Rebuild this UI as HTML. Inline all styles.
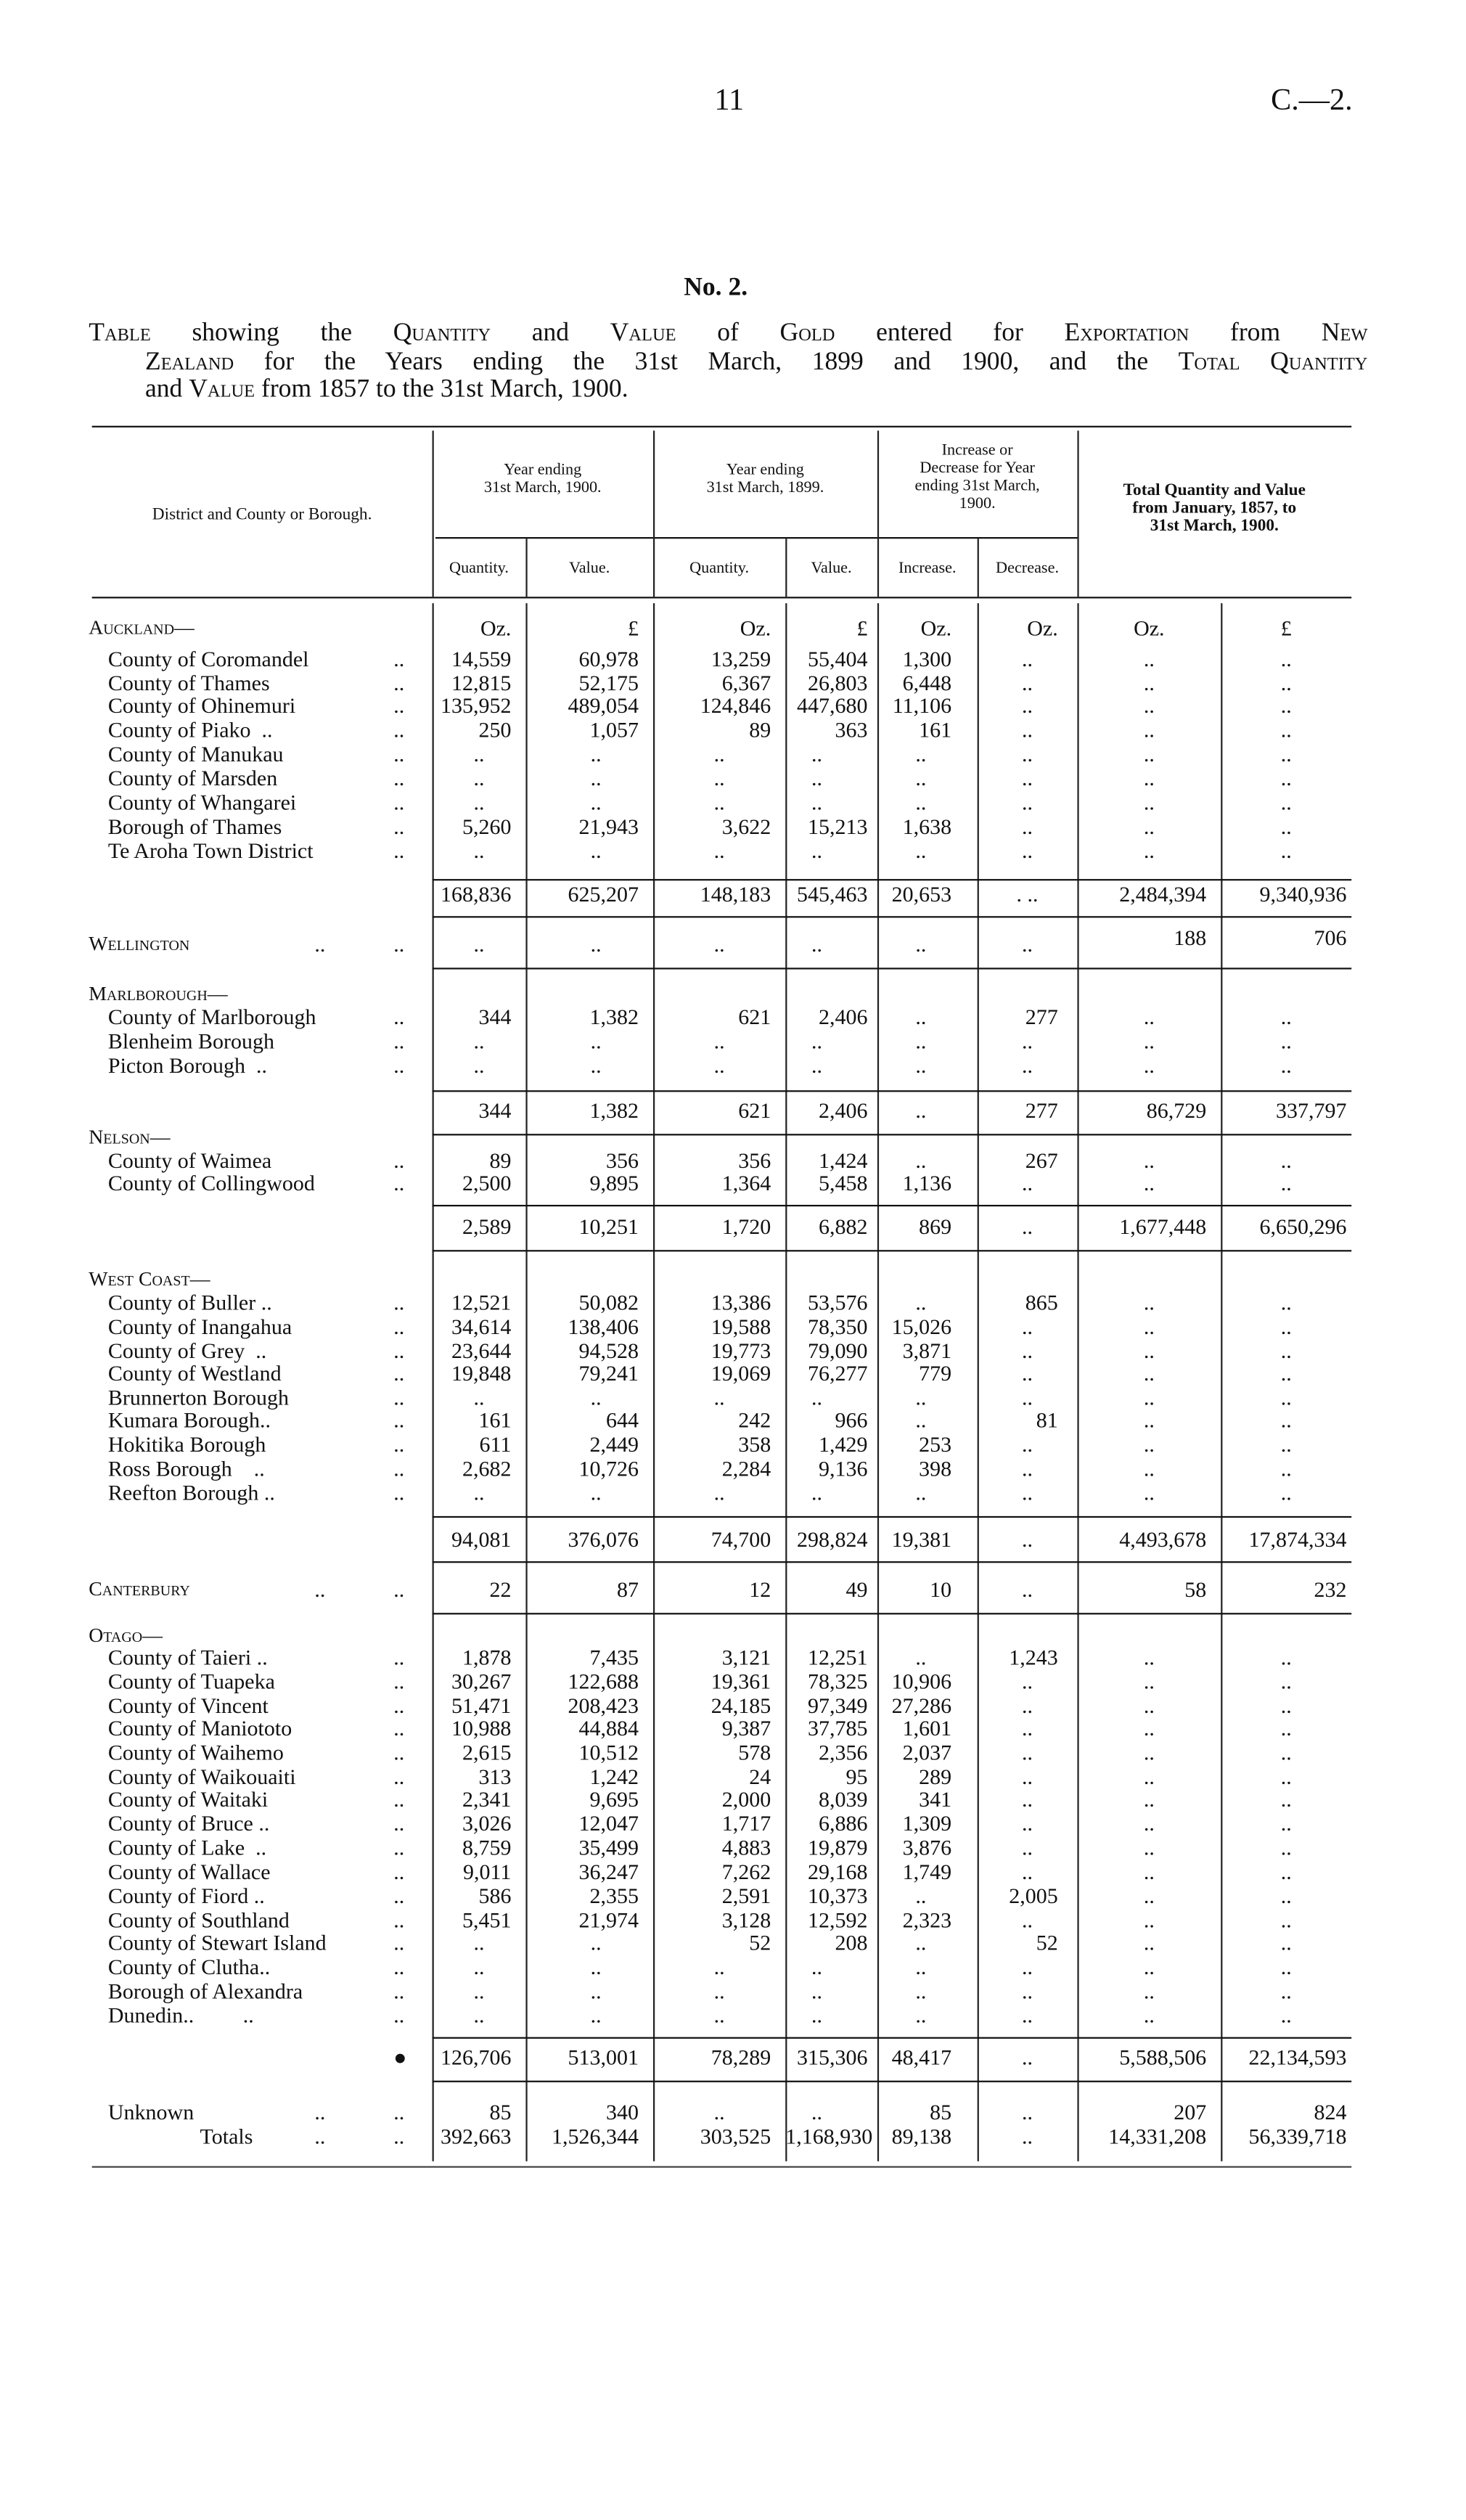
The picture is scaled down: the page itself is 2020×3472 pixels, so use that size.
<!DOCTYPE html>
<html><head><meta charset="utf-8"><style>
html,body{margin:0;padding:0;background:#fff;}
body{width:2020px;height:3472px;overflow:hidden;position:relative;}
#w{position:absolute;left:0;top:0;width:909px;height:1562.4px;transform:scale(2.2222);transform-origin:0 0;font-family:"Liberation Serif",serif;color:#111;}
.t{position:absolute;white-space:nowrap;}
.r{position:absolute;left:0;width:909px;height:15px;font-size:13.5px;line-height:15px;white-space:nowrap;}
.r span{position:absolute;top:0;}
.n{left:67px;}
.N{left:55px;font-variant:small-caps;font-size:12.5px;}
.l{left:244px;}
.l2{left:195px;}
.a{left:268px;width:49px;text-align:right;}
.b{left:326px;width:70px;text-align:right;}
.c{left:405px;width:73px;text-align:right;}
.d{left:487px;width:51px;text-align:right;}
.e{left:544px;width:46px;text-align:right;}
.f{left:606px;width:50px;text-align:right;}
.g{left:668px;width:80px;text-align:right;}
.h{left:757px;width:78px;text-align:right;}
.r span.z{text-align:center;}
.a.z{width:58px}.b.z{width:79px;left:330px}.c.z{width:82px}.d.z{width:57px;left:478px}.e.z{width:62px;left:540px}.f.z{width:62px}.g.z{width:89px}.h.z{width:81px}
.hl{position:absolute;height:1.4px;background:#111;}
.vl{position:absolute;width:1px;background:#222;}
.sc{font-variant:small-caps;}
.hd{position:absolute;font-size:10px;line-height:11px;text-align:center;white-space:nowrap;}
</style></head><body><div id="w">
<div class="t" style="left:443px;top:52px;font-size:19px;">11</div>
<div class="t" style="left:788px;top:52px;font-size:19px;">C.—2.</div>
<div class="t" style="left:424px;top:170px;font-size:16px;font-weight:bold;">No. 2.</div>
<div class="t" style="left:55px;top:198px;width:793px;font-size:16px;text-align:justify;text-align-last:justify;"><span class="sc">Table</span> showing the <span class="sc">Quantity</span> and <span class="sc">Value</span> of <span class="sc">Gold</span> entered for <span class="sc">Exportation</span> from <span class="sc">New</span></div>
<div class="t" style="left:90px;top:216px;width:758px;font-size:16px;text-align:justify;text-align-last:justify;"><span class="sc">Zealand</span> for the Years ending the 31st March, 1899 and 1900, and the <span class="sc">Total Quantity</span></div>
<div class="t" style="left:90px;top:233px;font-size:16px;">and <span class="sc">Value</span> from 1857 to the 31st March, 1900.</div>

<div class="hl" style="left:57px;top:264px;width:781px;"></div>
<div class="hl" style="left:57px;top:370px;width:781px;"></div>
<div class="hl" style="left:270px;top:333px;width:398px;height:1px;"></div>
<div class="vl" style="left:268px;top:267px;height:103px;"></div>
<div class="vl" style="left:405px;top:267px;height:103px;"></div>
<div class="vl" style="left:544px;top:267px;height:103px;"></div>
<div class="vl" style="left:668px;top:267px;height:103px;"></div>
<div class="vl" style="left:326px;top:334px;height:36px;"></div>
<div class="vl" style="left:487px;top:334px;height:36px;"></div>
<div class="vl" style="left:606px;top:334px;height:36px;"></div>
<div class="hd" style="left:60px;top:314px;width:205px;font-size:10.5px;">District and County or Borough.</div>
<div class="hd" style="left:268px;top:286px;width:137px;">Year ending<br>31st March, 1900.</div>
<div class="hd" style="left:405px;top:286px;width:139px;">Year ending<br>31st March, 1899.</div>
<div class="hd" style="left:544px;top:274px;width:124px;">Increase or<br>Decrease for Year<br>ending 31st March,<br>1900.</div>
<div class="hd" style="left:668px;top:299px;width:170px;font-weight:bold;font-size:10.5px;">Total Quantity and Value<br>from January, 1857, to<br>31st March, 1900.</div>
<div class="hd" style="left:268px;top:347px;width:58px;">Quantity.</div>
<div class="hd" style="left:326px;top:347px;width:79px;">Value.</div>
<div class="hd" style="left:405px;top:347px;width:82px;">Quantity.</div>
<div class="hd" style="left:487px;top:347px;width:57px;">Value.</div>
<div class="hd" style="left:544px;top:347px;width:62px;">Increase.</div>
<div class="hd" style="left:606px;top:347px;width:62px;">Decrease.</div>

<!-- body verticals -->
<div class="vl" style="left:268px;top:374px;height:966px;"></div>
<div class="vl" style="left:326px;top:374px;height:966px;"></div>
<div class="vl" style="left:405px;top:374px;height:966px;"></div>
<div class="vl" style="left:487px;top:374px;height:966px;"></div>
<div class="vl" style="left:544px;top:374px;height:966px;"></div>
<div class="vl" style="left:606px;top:374px;height:966px;"></div>
<div class="vl" style="left:668px;top:374px;height:966px;"></div>
<div class="vl" style="left:757px;top:374px;height:966px;"></div>

<!-- horizontal rules in body -->
<div class="hl" style="left:268px;top:545px;width:570px;"></div>
<div class="hl" style="left:268px;top:568px;width:570px;"></div>
<div class="hl" style="left:268px;top:600px;width:570px;"></div>
<div class="hl" style="left:268px;top:676px;width:570px;"></div>
<div class="hl" style="left:268px;top:703px;width:570px;"></div>
<div class="hl" style="left:268px;top:747px;width:570px;"></div>
<div class="hl" style="left:268px;top:775px;width:570px;"></div>
<div class="hl" style="left:268px;top:940px;width:570px;"></div>
<div class="hl" style="left:268px;top:968px;width:570px;"></div>
<div class="hl" style="left:268px;top:1000px;width:570px;"></div>
<div class="hl" style="left:268px;top:1263px;width:570px;"></div>
<div class="hl" style="left:268px;top:1290px;width:570px;"></div>
<div class="hl" style="left:57px;top:1343px;width:781px;height:1px;background:#444;"></div>

<div class="r" style="top:382px"><span class="N">Auckland—</span><span class="a">Oz.</span><span class="b">£</span><span class="c">Oz.</span><span class="d">£</span><span class="e">Oz.</span><span class="f">Oz.</span><span class="g z">Oz.</span><span class="h z">£</span></div>
<div class="r" style="top:401px"><span class="n">County of Coromandel</span><span class="l">..</span><span class="a">14,559</span><span class="b">60,978</span><span class="c">13,259</span><span class="d">55,404</span><span class="e">1,300</span><span class="f z">..</span><span class="g z">..</span><span class="h z">..</span></div>
<div class="r" style="top:416px"><span class="n">County of Thames</span><span class="l">..</span><span class="a">12,815</span><span class="b">52,175</span><span class="c">6,367</span><span class="d">26,803</span><span class="e">6,448</span><span class="f z">..</span><span class="g z">..</span><span class="h z">..</span></div>
<div class="r" style="top:430px"><span class="n">County of Ohinemuri</span><span class="l">..</span><span class="a">135,952</span><span class="b">489,054</span><span class="c">124,846</span><span class="d">447,680</span><span class="e">11,106</span><span class="f z">..</span><span class="g z">..</span><span class="h z">..</span></div>
<div class="r" style="top:445px"><span class="n">County of Piako &nbsp;..</span><span class="l">..</span><span class="a">250</span><span class="b">1,057</span><span class="c">89</span><span class="d">363</span><span class="e">161</span><span class="f z">..</span><span class="g z">..</span><span class="h z">..</span></div>
<div class="r" style="top:460px"><span class="n">County of Manukau</span><span class="l">..</span><span class="a z">..</span><span class="b z">..</span><span class="c z">..</span><span class="d z">..</span><span class="e z">..</span><span class="f z">..</span><span class="g z">..</span><span class="h z">..</span></div>
<div class="r" style="top:475px"><span class="n">County of Marsden</span><span class="l">..</span><span class="a z">..</span><span class="b z">..</span><span class="c z">..</span><span class="d z">..</span><span class="e z">..</span><span class="f z">..</span><span class="g z">..</span><span class="h z">..</span></div>
<div class="r" style="top:490px"><span class="n">County of Whangarei</span><span class="l">..</span><span class="a z">..</span><span class="b z">..</span><span class="c z">..</span><span class="d z">..</span><span class="e z">..</span><span class="f z">..</span><span class="g z">..</span><span class="h z">..</span></div>
<div class="r" style="top:505px"><span class="n">Borough of Thames</span><span class="l">..</span><span class="a">5,260</span><span class="b">21,943</span><span class="c">3,622</span><span class="d">15,213</span><span class="e">1,638</span><span class="f z">..</span><span class="g z">..</span><span class="h z">..</span></div>
<div class="r" style="top:520px"><span class="n">Te Aroha Town District</span><span class="l">..</span><span class="a z">..</span><span class="b z">..</span><span class="c z">..</span><span class="d z">..</span><span class="e z">..</span><span class="f z">..</span><span class="g z">..</span><span class="h z">..</span></div>
<div class="r" style="top:547px"><span class="a">168,836</span><span class="b">625,207</span><span class="c">148,183</span><span class="d">545,463</span><span class="e">20,653</span><span class="f z">. ..</span><span class="g">2,484,394</span><span class="h">9,340,936</span></div>

<div class="r" style="top:578px"><span class="N">Wellington</span><span class="l2">..</span><span class="l">..</span><span class="a z">..</span><span class="b z">..</span><span class="c z">..</span><span class="d z">..</span><span class="e z">..</span><span class="f z">..</span><span class="g" style="top:-4px">188</span><span class="h" style="top:-4px">706</span></div>

<div class="r" style="top:609px"><span class="N">Marlborough—</span></div>
<div class="r" style="top:623px"><span class="n">County of Marlborough</span><span class="l">..</span><span class="a">344</span><span class="b">1,382</span><span class="c">621</span><span class="d">2,406</span><span class="e z">..</span><span class="f">277</span><span class="g z">..</span><span class="h z">..</span></div>
<div class="r" style="top:638px"><span class="n">Blenheim Borough</span><span class="l">..</span><span class="a z">..</span><span class="b z">..</span><span class="c z">..</span><span class="d z">..</span><span class="e z">..</span><span class="f z">..</span><span class="g z">..</span><span class="h z">..</span></div>
<div class="r" style="top:653px"><span class="n">Picton Borough &nbsp;..</span><span class="l">..</span><span class="a z">..</span><span class="b z">..</span><span class="c z">..</span><span class="d z">..</span><span class="e z">..</span><span class="f z">..</span><span class="g z">..</span><span class="h z">..</span></div>
<div class="r" style="top:681px"><span class="a">344</span><span class="b">1,382</span><span class="c">621</span><span class="d">2,406</span><span class="e z">..</span><span class="f">277</span><span class="g">86,729</span><span class="h">337,797</span></div>

<div class="r" style="top:698px"><span class="N">Nelson—</span></div>
<div class="r" style="top:712px"><span class="n">County of Waimea</span><span class="l">..</span><span class="a">89</span><span class="b">356</span><span class="c">356</span><span class="d">1,424</span><span class="e z">..</span><span class="f">267</span><span class="g z">..</span><span class="h z">..</span></div>
<div class="r" style="top:726px"><span class="n">County of Collingwood</span><span class="l">..</span><span class="a">2,500</span><span class="b">9,895</span><span class="c">1,364</span><span class="d">5,458</span><span class="e">1,136</span><span class="f z">..</span><span class="g z">..</span><span class="h z">..</span></div>
<div class="r" style="top:753px"><span class="a">2,589</span><span class="b">10,251</span><span class="c">1,720</span><span class="d">6,882</span><span class="e">869</span><span class="f z">..</span><span class="g">1,677,448</span><span class="h">6,650,296</span></div>

<div class="r" style="top:786px"><span class="N">West Coast—</span></div>
<div class="r" style="top:800px"><span class="n">County of Buller ..</span><span class="l">..</span><span class="a">12,521</span><span class="b">50,082</span><span class="c">13,386</span><span class="d">53,576</span><span class="e z">..</span><span class="f">865</span><span class="g z">..</span><span class="h z">..</span></div>
<div class="r" style="top:815px"><span class="n">County of Inangahua</span><span class="l">..</span><span class="a">34,614</span><span class="b">138,406</span><span class="c">19,588</span><span class="d">78,350</span><span class="e">15,026</span><span class="f z">..</span><span class="g z">..</span><span class="h z">..</span></div>
<div class="r" style="top:830px"><span class="n">County of Grey &nbsp;..</span><span class="l">..</span><span class="a">23,644</span><span class="b">94,528</span><span class="c">19,773</span><span class="d">79,090</span><span class="e">3,871</span><span class="f z">..</span><span class="g z">..</span><span class="h z">..</span></div>
<div class="r" style="top:844px"><span class="n">County of Westland</span><span class="l">..</span><span class="a">19,848</span><span class="b">79,241</span><span class="c">19,069</span><span class="d">76,277</span><span class="e">779</span><span class="f z">..</span><span class="g z">..</span><span class="h z">..</span></div>
<div class="r" style="top:859px"><span class="n">Brunnerton Borough</span><span class="l">..</span><span class="a z">..</span><span class="b z">..</span><span class="c z">..</span><span class="d z">..</span><span class="e z">..</span><span class="f z">..</span><span class="g z">..</span><span class="h z">..</span></div>
<div class="r" style="top:873px"><span class="n">Kumara Borough..</span><span class="l">..</span><span class="a">161</span><span class="b">644</span><span class="c">242</span><span class="d">966</span><span class="e z">..</span><span class="f">81</span><span class="g z">..</span><span class="h z">..</span></div>
<div class="r" style="top:888px"><span class="n">Hokitika Borough</span><span class="l">..</span><span class="a">611</span><span class="b">2,449</span><span class="c">358</span><span class="d">1,429</span><span class="e">253</span><span class="f z">..</span><span class="g z">..</span><span class="h z">..</span></div>
<div class="r" style="top:903px"><span class="n">Ross Borough &nbsp;&nbsp;&nbsp;..</span><span class="l">..</span><span class="a">2,682</span><span class="b">10,726</span><span class="c">2,284</span><span class="d">9,136</span><span class="e">398</span><span class="f z">..</span><span class="g z">..</span><span class="h z">..</span></div>
<div class="r" style="top:918px"><span class="n">Reefton Borough ..</span><span class="l">..</span><span class="a z">..</span><span class="b z">..</span><span class="c z">..</span><span class="d z">..</span><span class="e z">..</span><span class="f z">..</span><span class="g z">..</span><span class="h z">..</span></div>
<div class="r" style="top:947px"><span class="a">94,081</span><span class="b">376,076</span><span class="c">74,700</span><span class="d">298,824</span><span class="e">19,381</span><span class="f z">..</span><span class="g">4,493,678</span><span class="h">17,874,334</span></div>

<div class="r" style="top:978px"><span class="N">Canterbury</span><span class="l2">..</span><span class="l">..</span><span class="a">22</span><span class="b">87</span><span class="c">12</span><span class="d">49</span><span class="e">10</span><span class="f z">..</span><span class="g">58</span><span class="h">232</span></div>

<div class="r" style="top:1007px"><span class="N">Otago—</span></div>
<div class="r" style="top:1020px"><span class="n">County of Taieri ..</span><span class="l">..</span><span class="a">1,878</span><span class="b">7,435</span><span class="c">3,121</span><span class="d">12,251</span><span class="e z">..</span><span class="f">1,243</span><span class="g z">..</span><span class="h z">..</span></div>
<div class="r" style="top:1035px"><span class="n">County of Tuapeka</span><span class="l">..</span><span class="a">30,267</span><span class="b">122,688</span><span class="c">19,361</span><span class="d">78,325</span><span class="e">10,906</span><span class="f z">..</span><span class="g z">..</span><span class="h z">..</span></div>
<div class="r" style="top:1050px"><span class="n">County of Vincent</span><span class="l">..</span><span class="a">51,471</span><span class="b">208,423</span><span class="c">24,185</span><span class="d">97,349</span><span class="e">27,286</span><span class="f z">..</span><span class="g z">..</span><span class="h z">..</span></div>
<div class="r" style="top:1064px"><span class="n">County of Maniototo</span><span class="l">..</span><span class="a">10,988</span><span class="b">44,884</span><span class="c">9,387</span><span class="d">37,785</span><span class="e">1,601</span><span class="f z">..</span><span class="g z">..</span><span class="h z">..</span></div>
<div class="r" style="top:1079px"><span class="n">County of Waihemo</span><span class="l">..</span><span class="a">2,615</span><span class="b">10,512</span><span class="c">578</span><span class="d">2,356</span><span class="e">2,037</span><span class="f z">..</span><span class="g z">..</span><span class="h z">..</span></div>
<div class="r" style="top:1094px"><span class="n">County of Waikouaiti</span><span class="l">..</span><span class="a">313</span><span class="b">1,242</span><span class="c">24</span><span class="d">95</span><span class="e">289</span><span class="f z">..</span><span class="g z">..</span><span class="h z">..</span></div>
<div class="r" style="top:1108px"><span class="n">County of Waitaki</span><span class="l">..</span><span class="a">2,341</span><span class="b">9,695</span><span class="c">2,000</span><span class="d">8,039</span><span class="e">341</span><span class="f z">..</span><span class="g z">..</span><span class="h z">..</span></div>
<div class="r" style="top:1123px"><span class="n">County of Bruce ..</span><span class="l">..</span><span class="a">3,026</span><span class="b">12,047</span><span class="c">1,717</span><span class="d">6,886</span><span class="e">1,309</span><span class="f z">..</span><span class="g z">..</span><span class="h z">..</span></div>
<div class="r" style="top:1138px"><span class="n">County of Lake &nbsp;..</span><span class="l">..</span><span class="a">8,759</span><span class="b">35,499</span><span class="c">4,883</span><span class="d">19,879</span><span class="e">3,876</span><span class="f z">..</span><span class="g z">..</span><span class="h z">..</span></div>
<div class="r" style="top:1153px"><span class="n">County of Wallace</span><span class="l">..</span><span class="a">9,011</span><span class="b">36,247</span><span class="c">7,262</span><span class="d">29,168</span><span class="e">1,749</span><span class="f z">..</span><span class="g z">..</span><span class="h z">..</span></div>
<div class="r" style="top:1168px"><span class="n">County of Fiord ..</span><span class="l">..</span><span class="a">586</span><span class="b">2,355</span><span class="c">2,591</span><span class="d">10,373</span><span class="e z">..</span><span class="f">2,005</span><span class="g z">..</span><span class="h z">..</span></div>
<div class="r" style="top:1183px"><span class="n">County of Southland</span><span class="l">..</span><span class="a">5,451</span><span class="b">21,974</span><span class="c">3,128</span><span class="d">12,592</span><span class="e">2,323</span><span class="f z">..</span><span class="g z">..</span><span class="h z">..</span></div>
<div class="r" style="top:1197px"><span class="n">County of Stewart Island</span><span class="l">..</span><span class="a z">..</span><span class="b z">..</span><span class="c">52</span><span class="d">208</span><span class="e z">..</span><span class="f">52</span><span class="g z">..</span><span class="h z">..</span></div>
<div class="r" style="top:1212px"><span class="n">County of Clutha..</span><span class="l">..</span><span class="a z">..</span><span class="b z">..</span><span class="c z">..</span><span class="d z">..</span><span class="e z">..</span><span class="f z">..</span><span class="g z">..</span><span class="h z">..</span></div>
<div class="r" style="top:1227px"><span class="n">Borough of Alexandra</span><span class="l">..</span><span class="a z">..</span><span class="b z">..</span><span class="c z">..</span><span class="d z">..</span><span class="e z">..</span><span class="f z">..</span><span class="g z">..</span><span class="h z">..</span></div>
<div class="r" style="top:1242px"><span class="n">Dunedin.. &nbsp;&nbsp;&nbsp;&nbsp;&nbsp;&nbsp;&nbsp;&nbsp;..</span><span class="l">..</span><span class="a z">..</span><span class="b z">..</span><span class="c z">..</span><span class="d z">..</span><span class="e z">..</span><span class="f z">..</span><span class="g z">..</span><span class="h z">..</span></div>
<div class="r" style="top:1268px"><span class="l">●</span><span class="a">126,706</span><span class="b">513,001</span><span class="c">78,289</span><span class="d">315,306</span><span class="e">48,417</span><span class="f z">..</span><span class="g">5,588,506</span><span class="h">22,134,593</span></div>

<div class="r" style="top:1302px"><span class="n">Unknown</span><span class="l2">..</span><span class="l">..</span><span class="a">85</span><span class="b">340</span><span class="c z">..</span><span class="d z">..</span><span class="e">85</span><span class="f z">..</span><span class="g">207</span><span class="h">824</span></div>
<div class="r" style="top:1317px"><span style="left:124px">Totals</span><span class="l2">..</span><span class="l">..</span><span class="a">392,663</span><span class="b">1,526,344</span><span class="c">303,525</span><span class="d">1,168,930</span><span class="e">89,138</span><span class="f z">..</span><span class="g">14,331,208</span><span class="h">56,339,718</span></div>
</div></body></html>
